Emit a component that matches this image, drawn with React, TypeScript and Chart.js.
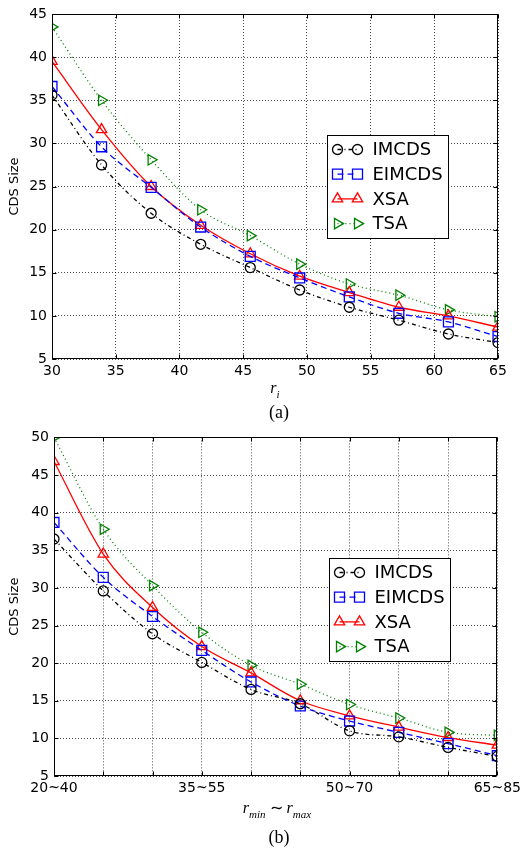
import React, { useEffect, useRef } from 'react';
import { Chart, registerables } from 'chart.js';

Chart.register(...registerables);

// ---------- data ----------
const riValues = [30, 33.89, 37.78, 41.67, 45.56, 49.44, 53.33, 57.22, 61.11, 65];
const aIMCDS = [35.6, 27.5, 21.9, 18.3, 15.6, 13.0, 11.0, 9.5, 7.9, 6.9];
const aEIMCDS = [36.6, 29.6, 24.9, 20.3, 16.9, 14.4, 12.2, 10.3, 9.3, 7.6];
const aXSA = [39.5, 31.6, 25.0, 20.5, 17.2, 14.6, 12.7, 11.0, 10.0, 8.7];
const aTSA = [43.5, 35.0, 28.1, 22.3, 19.3, 16.0, 13.7, 12.4, 10.7, 9.9];

const rangeLabels = ['20~40', '25~45', '30~50', '35~55', '40~60', '45~65', '50~70', '55~75', '60~80', '65~85'];
const shownRangeLabels = ['20~40', '35~55', '50~70', '65~85'];
const bIMCDS = [36.5, 29.6, 23.9, 20.1, 16.5, 14.6, 11.0, 10.2, 8.8, 7.6];
const bEIMCDS = [38.7, 31.4, 26.2, 21.7, 17.5, 14.3, 12.3, 10.8, 9.3, 7.7];
const bXSA = [46.8, 34.5, 27.4, 22.2, 18.7, 15.0, 13.0, 11.5, 10.1, 9.1];
const bTSA = [50.0, 37.8, 30.3, 24.1, 19.7, 17.2, 14.5, 12.7, 10.8, 10.4];

const seriesNames = ['IMCDS', 'EIMCDS', 'XSA', 'TSA'];
const seriesColors = ['#000000', '#0000ff', '#ff0000', '#008000'];
const seriesDash = [[4, 3, 1, 3], [6, 4], [], [1, 3]];
const seriesMarker = ['circle', 'rect', 'triangle', 'triangle'];
const seriesRotation = [0, 0, 0, 90];
const seriesRadius = [5, 7, 6, 6];

const FONT = "'DejaVu Sans', sans-serif";

function drawMarker(ctx: CanvasRenderingContext2D, kind: number, x: number, y: number) {
  ctx.beginPath();
  if (kind === 0) {
    ctx.arc(x, y, 5, 0, Math.PI * 2);
  } else if (kind === 1) {
    ctx.rect(x - 5, y - 5, 10, 10);
  } else if (kind === 2) {
    ctx.moveTo(x, y - 6);
    ctx.lineTo(x + 5.2, y + 3);
    ctx.lineTo(x - 5.2, y + 3);
    ctx.closePath();
  } else {
    ctx.moveTo(x + 6, y);
    ctx.lineTo(x - 3, y + 5.2);
    ctx.lineTo(x - 3, y - 5.2);
    ctx.closePath();
  }
  ctx.stroke();
}

const framePlugin = {
  id: 'frameLegend',
  afterDraw(chart: any) {
    const { ctx, chartArea: a } = chart;
    ctx.save();
    ctx.setLineDash([]);
    ctx.strokeStyle = '#000';
    ctx.lineWidth = 1;
    const l = Math.round(a.left) + 0.5;
    const t = Math.round(a.top) + 0.5;
    const r = Math.round(a.right) - 0.5;
    const b = Math.round(a.bottom) - 0.5;
    // inward tick marks on all sides
    const xs = chart.scales.x;
    const ys = chart.scales.y;
    ctx.beginPath();
    for (let i = 0; i < xs.ticks.length; i++) {
      const px = Math.round(xs.getPixelForTick(i)) + 0.5;
      ctx.moveTo(px, b); ctx.lineTo(px, b - 4);
      ctx.moveTo(px, t); ctx.lineTo(px, t + 4);
    }
    for (let i = 0; i < ys.ticks.length; i++) {
      const py = Math.round(ys.getPixelForTick(i)) + 0.5;
      ctx.moveTo(l, py); ctx.lineTo(l + 4, py);
      ctx.moveTo(r, py); ctx.lineTo(r - 4, py);
    }
    ctx.stroke();
    ctx.strokeRect(l, t, r - l, b - t);

    // legend
    const bx = Math.round(a.left + 275) + 0.5;
    const by = Math.round(a.top + 121) + 0.5;
    const bw = 121;
    const bh = 103;
    ctx.fillStyle = '#fff';
    ctx.fillRect(bx, by, bw, bh);
    ctx.strokeStyle = '#000';
    ctx.lineWidth = 1;
    ctx.strokeRect(bx, by, bw, bh);
    ctx.font = `18px ${FONT}`;
    ctx.textBaseline = 'middle';
    ctx.textAlign = 'left';
    for (let i = 0; i < seriesNames.length; i++) {
      const cy = by + 14 + i * 24.7;
      const x1 = bx + 10;
      const x2 = bx + 30;
      ctx.strokeStyle = seriesColors[i];
      ctx.lineWidth = 1.3;
      ctx.setLineDash(seriesDash[i]);
      ctx.beginPath();
      ctx.moveTo(x1, cy);
      ctx.lineTo(x2, cy);
      ctx.stroke();
      ctx.setLineDash([]);
      drawMarker(ctx, i, x1, cy);
      drawMarker(ctx, i, x2, cy);
      ctx.fillStyle = '#000';
      ctx.fillText(seriesNames[i], bx + 45, cy + 1);
    }
    ctx.restore();
  },
};

function makeDatasets(values: number[][], xs: (number | null)[] | null) {
  return values.map((vals, i) => ({
    label: seriesNames[i],
    data: xs ? vals.map((v, j) => ({ x: xs[j] as number, y: v })) : vals,
    borderColor: seriesColors[i],
    borderWidth: 1.3,
    borderDash: seriesDash[i],
    backgroundColor: 'rgba(0,0,0,0)',
    pointStyle: seriesMarker[i],
    pointRotation: seriesRotation[i],
    pointRadius: seriesRadius[i],
    pointBorderColor: seriesColors[i],
    pointBorderWidth: 1.3,
    pointBackgroundColor: 'rgba(0,0,0,0)',
    cubicInterpolationMode: 'monotone' as const,
    fill: false,
    clip: 0,
  }));
}

const gridOpts = {
  color: 'rgba(0,0,0,0.7)',
  lineWidth: 1,
  drawTicks: false,
};

function ChartCanvas(props: { kind: 'a' | 'b' }) {
  const ref = useRef<HTMLCanvasElement>(null);
  useEffect(() => {
    if (!ref.current) return;
    const isA = props.kind === 'a';
    const yWidth = isA ? 52 : 54;
    const xHeight = isA ? 65 : 72;
    const chart = new Chart(ref.current, {
      type: 'line',
      data: isA
        ? { datasets: makeDatasets([aIMCDS, aEIMCDS, aXSA, aTSA], riValues) as any }
        : { labels: rangeLabels, datasets: makeDatasets([bIMCDS, bEIMCDS, bXSA, bTSA], null) as any },
      options: {
        animation: false,
        responsive: false,
        maintainAspectRatio: false,
        layout: { padding: isA ? { top: 14, right: 27, left: 0, bottom: 0 } : { top: 9, right: 24, left: 0, bottom: 0 } },
        plugins: { legend: { display: false }, tooltip: { enabled: false } },
        scales: {
          x: isA
            ? {
                type: 'linear',
                min: 30,
                max: 65,
                ticks: { stepSize: 5, color: '#000', font: { family: FONT, size: 14 }, padding: 4, maxRotation: 0 },
                grid: { ...gridOpts },
                border: { display: false, dash: [1, 2] },
                afterFit: (s: any) => { s.height = xHeight; },
              }
            : {
                type: 'category',
                offset: false,
                ticks: {
                  color: '#000',
                  font: { family: FONT, size: 14 },
                  padding: 4,
                  maxRotation: 0,
                  autoSkip: false,
                  callback: (_v: any, i: number) => (shownRangeLabels.includes(rangeLabels[i]) ? rangeLabels[i] : ''),
                },
                grid: { ...gridOpts },
                border: { display: false, dash: [1, 2] },
                afterFit: (s: any) => { s.height = xHeight; },
              },
          y: {
            type: 'linear',
            min: 5,
            max: isA ? 45 : 50,
            ticks: { stepSize: 5, color: '#000', font: { family: FONT, size: 14 }, padding: 5 },
            grid: { ...gridOpts },
            border: { display: false, dash: [1, 2] },
            title: { display: true, text: 'CDS Size', color: '#000', font: { family: FONT, size: 13 }, padding: { top: 7, bottom: 0 } },
            afterFit: (s: any) => { s.width = yWidth; },
          },
        },
      } as any,
      plugins: [framePlugin],
    });
    return () => chart.destroy();
  }, [props.kind]);
  return <canvas ref={ref} width={525} height={424} style={{ display: 'block', width: 525, height: 424 }} />;
}

const serif = "'Liberation Serif', 'Times New Roman', serif";

export default function App() {
  const label = (top: number, left: number, content: React.ReactNode, size: number) => (
    <div
      style={{
        position: 'absolute',
        top,
        left,
        transform: 'translate(-50%, -50%)',
        fontFamily: serif,
        fontSize: size,
        whiteSpace: 'nowrap',
        color: '#000',
        lineHeight: 1,
      }}
    >
      {content}
    </div>
  );
  return (
    <div style={{ position: 'fixed', top: 0, left: 0, width: 525, height: 848, background: '#fff', overflow: 'hidden' }}>
      <div style={{ position: 'absolute', top: 0, left: 0 }}>
        <ChartCanvas kind="a" />
      </div>
      <div style={{ position: 'absolute', top: 424, left: 0 }}>
        <ChartCanvas kind="b" />
      </div>
      {label(390, 275, <span><i>r</i><sub style={{ fontSize: 11 }}><i>i</i></sub></span>, 16)}
      {label(412, 279, '(a)', 18)}
      {label(810, 277, <span><i>r</i><sub style={{ fontSize: 11 }}><i>min</i></sub> ∼ <i>r</i><sub style={{ fontSize: 11 }}><i>max</i></sub></span>, 16)}
      {label(837, 279, '(b)', 18)}
    </div>
  );
}
